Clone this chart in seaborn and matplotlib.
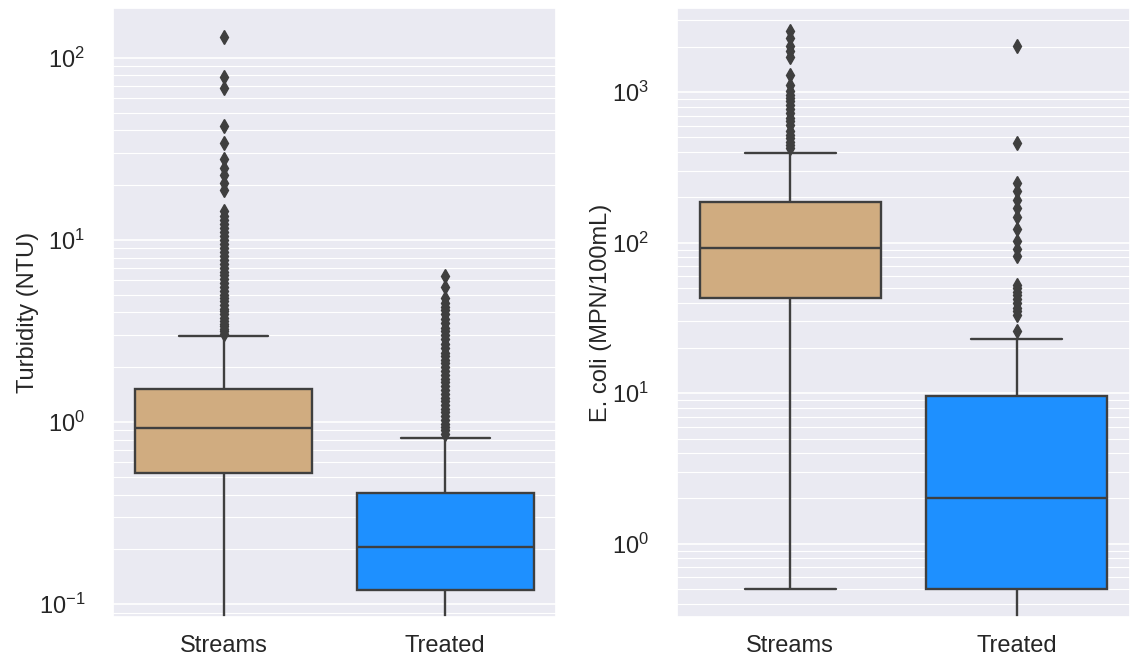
import matplotlib
matplotlib.use("Agg")
import matplotlib.pyplot as plt
import pandas as pd
import seaborn as sns

sites = ["Streams", "Treated"]
site_colors = ["#D0AC80", "#1E90FF"]

# box summaries: [lower whisker, q1, median, q3, upper whisker]
turb_streams_box = [0.0, 0.525, 0.93, 1.52, 2.95]
turb_treated_box = [0.0, 0.119, 0.206, 0.41, 0.82]
ecoli_streams_box = [0.5, 43.0, 92.6, 185.0, 395.0]
ecoli_treated_box = [0.0, 0.5, 2.0, 9.6, 23.0]

# outliers (NTU)
turb_streams_fliers = [3.05, 3.15, 3.25, 3.35, 3.45, 3.6, 3.75, 3.9, 4.05, 4.2, 4.4,
                       4.6, 4.8, 5.0, 5.25, 5.5, 5.8, 6.1, 6.4, 6.7, 7.0, 7.4, 7.8,
                       8.2, 8.6, 9.0, 9.5, 10.0, 10.5, 11.0, 11.6, 12.2, 12.9, 13.6,
                       14.5, 18.8, 20.6, 22.8, 24.9, 27.9, 34.1, 42.3, 68.4, 78.8, 130.0]
turb_treated_fliers = [0.86, 0.9, 0.94, 0.98, 1.03, 1.08, 1.13, 1.18, 1.24, 1.3, 1.36,
                       1.43, 1.5, 1.57, 1.65, 1.73, 1.82, 1.91, 2.0, 2.1, 2.2, 2.3,
                       2.4, 2.55, 2.7, 2.85, 3.0, 3.15, 3.3, 3.5, 3.7, 3.9, 4.1, 4.3,
                       4.5, 4.8, 5.5, 6.3]

# outliers (MPN/100mL)
ecoli_streams_fliers = [423, 443, 470, 493, 520, 550, 603, 640, 671, 724, 770, 819,
                        870, 912, 960, 1015, 1113, 1298, 1711, 1876, 2027, 2290, 2550]
ecoli_treated_fliers = [26, 33, 35, 37, 40, 42, 45, 47, 50, 52, 82, 91, 102, 124, 149,
                        169, 191, 219, 251, 457, 2018]


def sample(box, fliers):
    # sample whose quartiles / whiskers give back the summary above
    lo, q1, med, q3, hi = box
    r = len(fliers) + 1
    return [lo] + [q1] * r + [med] * r + [q3] * r + [hi] + fliers


def long_table(boxes, fliers, name):
    rows = []
    for site, b, f in zip(sites, boxes, fliers):
        for v in sample(b, f):
            rows.append({"site": site, name: v})
    return pd.DataFrame(rows)


turb_df = long_table([turb_streams_box, turb_treated_box],
                     [turb_streams_fliers, turb_treated_fliers], "turbidity")
ecoli_df = long_table([ecoli_streams_box, ecoli_treated_box],
                      [ecoli_streams_fliers, ecoli_treated_fliers], "ecoli")

sns.set_theme(style="darkgrid")
plt.rcParams["font.family"] = ["Liberation Sans", "DejaVu Sans"]
plt.rcParams["xtick.labelsize"] = 17
plt.rcParams["ytick.labelsize"] = 17
plt.rcParams["axes.labelsize"] = 17

fig = plt.figure(figsize=(11.31, 6.59), dpi=100)
ax1 = fig.add_axes([0.0999, 0.0637, 0.3917, 0.9243])
ax2 = fig.add_axes([0.5986, 0.0637, 0.4004, 0.9243])

flier_style = dict(marker="d", markerfacecolor="#3f3f3f", markeredgecolor="#3f3f3f",
                   markersize=7)

for ax, df, col, label, lims in [
    (ax1, turb_df, "turbidity", "Turbidity (NTU)", (0.085, 188)),
    (ax2, ecoli_df, "ecoli", "E. coli (MPN/100mL)", (0.326, 3630)),
]:
    sns.boxplot(data=df, x="site", y=col, hue="site", palette=site_colors,
                saturation=1, width=0.8, linewidth=1.7, linecolor="#3f3f3f",
                flierprops=flier_style, legend=False, ax=ax)
    ax.set_yscale("log")
    ax.set_ylim(*lims)
    ax.grid(which="major", axis="y", color="white", linewidth=1.2)
    ax.grid(which="minor", axis="y", color="white", linewidth=0.8)
    ax.tick_params(axis="y", which="major", pad=14)
    ax.tick_params(axis="x", pad=7)
    ax.set_xlabel("")
    ax.set_ylabel(label, labelpad=0)

fig.savefig("out.png", dpi=100)
